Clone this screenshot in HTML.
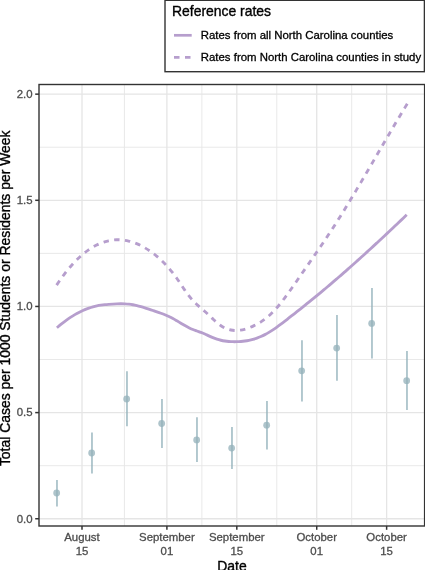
<!DOCTYPE html>
<html><head><meta charset="utf-8"><title>Chart</title>
<style>
html,body{margin:0;padding:0;background:#fff;}
body{width:425px;height:570px;overflow:hidden;position:relative;font-family:"Liberation Sans",sans-serif;}
svg text{font-family:"Liberation Sans",sans-serif;}
.ax{font-size:11.4px;fill:#4d4d4d;stroke:#4d4d4d;stroke-width:0.3px;}
.ti{font-size:13.93px;fill:#000;stroke:#000;stroke-width:0.35px;}
.lg{font-size:11.4px;fill:#000;stroke:#000;stroke-width:0.3px;}
</style></head><body>
<svg width="425" height="570" viewBox="0 0 425 570" style="position:absolute;left:0;top:0;will-change:transform">
<rect x="0" y="0" width="425" height="570" fill="#fff"/>
<line x1="39.0" x2="424.6" y1="465.68" y2="465.68" stroke="#e6e6e6" stroke-width="0.9"/>
<line x1="39.0" x2="424.6" y1="359.52" y2="359.52" stroke="#e6e6e6" stroke-width="0.9"/>
<line x1="39.0" x2="424.6" y1="253.38" y2="253.38" stroke="#e6e6e6" stroke-width="0.9"/>
<line x1="39.0" x2="424.6" y1="147.22" y2="147.22" stroke="#e6e6e6" stroke-width="0.9"/>
<line x1="124.45" x2="124.45" y1="84.5" y2="526.0" stroke="#e6e6e6" stroke-width="0.9"/>
<line x1="201.86" x2="201.86" y1="84.5" y2="526.0" stroke="#e6e6e6" stroke-width="0.9"/>
<line x1="276.77" x2="276.77" y1="84.5" y2="526.0" stroke="#e6e6e6" stroke-width="0.9"/>
<line x1="351.68" x2="351.68" y1="84.5" y2="526.0" stroke="#e6e6e6" stroke-width="0.9"/>
<line x1="39.0" x2="424.6" y1="518.75" y2="518.75" stroke="#e5e5e5" stroke-width="1.3"/>
<line x1="39.0" x2="424.6" y1="412.60" y2="412.60" stroke="#e5e5e5" stroke-width="1.3"/>
<line x1="39.0" x2="424.6" y1="306.45" y2="306.45" stroke="#e5e5e5" stroke-width="1.3"/>
<line x1="39.0" x2="424.6" y1="200.30" y2="200.30" stroke="#e5e5e5" stroke-width="1.3"/>
<line x1="39.0" x2="424.6" y1="94.15" y2="94.15" stroke="#e5e5e5" stroke-width="1.3"/>
<line x1="82.00" x2="82.00" y1="84.5" y2="526.0" stroke="#e5e5e5" stroke-width="1.3"/>
<line x1="166.90" x2="166.90" y1="84.5" y2="526.0" stroke="#e5e5e5" stroke-width="1.3"/>
<line x1="236.81" x2="236.81" y1="84.5" y2="526.0" stroke="#e5e5e5" stroke-width="1.3"/>
<line x1="316.72" x2="316.72" y1="84.5" y2="526.0" stroke="#e5e5e5" stroke-width="1.3"/>
<line x1="386.63" x2="386.63" y1="84.5" y2="526.0" stroke="#e5e5e5" stroke-width="1.3"/>
<line x1="56.97" x2="56.97" y1="479.9" y2="506.6" stroke="rgba(149,178,187,0.74)" stroke-width="1.9"/>
<line x1="91.97" x2="91.97" y1="432.4" y2="473.5" stroke="rgba(149,178,187,0.74)" stroke-width="1.9"/>
<line x1="126.97" x2="126.97" y1="371.3" y2="426.3" stroke="rgba(149,178,187,0.74)" stroke-width="1.9"/>
<line x1="161.97" x2="161.97" y1="399.0" y2="448.0" stroke="rgba(149,178,187,0.74)" stroke-width="1.9"/>
<line x1="196.97" x2="196.97" y1="417.3" y2="461.9" stroke="rgba(149,178,187,0.74)" stroke-width="1.9"/>
<line x1="231.97" x2="231.97" y1="426.9" y2="469.0" stroke="rgba(149,178,187,0.74)" stroke-width="1.9"/>
<line x1="266.97" x2="266.97" y1="400.9" y2="449.5" stroke="rgba(149,178,187,0.74)" stroke-width="1.9"/>
<line x1="301.97" x2="301.97" y1="340.2" y2="401.5" stroke="rgba(149,178,187,0.74)" stroke-width="1.9"/>
<line x1="336.97" x2="336.97" y1="315.1" y2="380.7" stroke="rgba(149,178,187,0.74)" stroke-width="1.9"/>
<line x1="371.97" x2="371.97" y1="288.1" y2="358.6" stroke="rgba(149,178,187,0.74)" stroke-width="1.9"/>
<line x1="406.97" x2="406.97" y1="351.0" y2="410.0" stroke="rgba(149,178,187,0.74)" stroke-width="1.9"/>
<circle cx="56.67" cy="493.0" r="3.4" fill="rgba(149,178,187,0.76)"/>
<circle cx="91.67" cy="453.0" r="3.4" fill="rgba(149,178,187,0.76)"/>
<circle cx="126.67" cy="399.0" r="3.4" fill="rgba(149,178,187,0.76)"/>
<circle cx="161.67" cy="423.5" r="3.4" fill="rgba(149,178,187,0.76)"/>
<circle cx="196.67" cy="439.9" r="3.4" fill="rgba(149,178,187,0.76)"/>
<circle cx="231.67" cy="448.1" r="3.4" fill="rgba(149,178,187,0.76)"/>
<circle cx="266.67" cy="425.2" r="3.4" fill="rgba(149,178,187,0.76)"/>
<circle cx="301.67" cy="370.8" r="3.4" fill="rgba(149,178,187,0.76)"/>
<circle cx="336.67" cy="348.1" r="3.4" fill="rgba(149,178,187,0.76)"/>
<circle cx="371.67" cy="323.4" r="3.4" fill="rgba(149,178,187,0.76)"/>
<circle cx="406.67" cy="380.7" r="3.4" fill="rgba(149,178,187,0.76)"/>
<path d="M56.90 327.75 C57.57 327.19 59.57 325.47 60.90 324.39 C62.23 323.31 63.57 322.27 64.90 321.28 C66.23 320.29 67.57 319.34 68.90 318.43 C70.23 317.52 71.57 316.66 72.90 315.84 C74.23 315.02 75.57 314.24 76.90 313.51 C78.23 312.78 79.57 312.09 80.90 311.45 C82.23 310.81 83.57 310.21 84.90 309.66 C86.23 309.10 87.57 308.60 88.90 308.14 C90.23 307.67 91.57 307.26 92.90 306.89 C94.23 306.52 95.57 306.20 96.90 305.92 C98.23 305.64 99.57 305.41 100.90 305.20 C102.23 305.00 103.57 304.83 104.90 304.69 C106.23 304.54 107.57 304.43 108.90 304.32 C110.23 304.21 111.57 304.12 112.90 304.05 C114.23 303.97 115.57 303.89 116.90 303.84 C118.23 303.79 119.57 303.76 120.90 303.76 C122.23 303.76 123.57 303.78 124.90 303.85 C126.23 303.91 127.57 304.01 128.90 304.16 C130.23 304.32 131.57 304.52 132.90 304.76 C134.23 305.00 135.57 305.30 136.90 305.62 C138.23 305.93 139.57 306.30 140.90 306.67 C142.23 307.05 143.57 307.46 144.90 307.88 C146.23 308.29 147.57 308.73 148.90 309.16 C150.23 309.60 151.57 310.04 152.90 310.48 C154.23 310.92 155.57 311.36 156.90 311.82 C158.23 312.28 159.57 312.75 160.90 313.24 C162.23 313.74 163.57 314.25 164.90 314.80 C166.23 315.36 167.57 315.93 168.90 316.56 C170.23 317.19 171.57 317.85 172.90 318.56 C174.23 319.27 175.57 320.05 176.90 320.82 C178.23 321.60 179.57 322.42 180.90 323.21 C182.23 324.00 183.57 324.81 184.90 325.56 C186.23 326.31 187.57 327.06 188.90 327.72 C190.23 328.38 191.57 328.98 192.90 329.54 C194.23 330.09 195.57 330.54 196.90 331.02 C198.23 331.50 199.57 331.93 200.90 332.43 C202.23 332.93 203.57 333.44 204.90 334.01 C206.23 334.59 207.57 335.26 208.90 335.87 C210.23 336.48 211.57 337.13 212.90 337.67 C214.23 338.22 215.57 338.71 216.90 339.14 C218.23 339.56 219.57 339.92 220.90 340.24 C222.23 340.55 223.57 340.80 224.90 341.01 C226.23 341.22 227.57 341.37 228.90 341.49 C230.23 341.60 231.57 341.67 232.90 341.70 C234.23 341.73 235.57 341.72 236.90 341.68 C238.23 341.64 239.57 341.57 240.90 341.46 C242.23 341.35 243.57 341.20 244.90 341.01 C246.23 340.82 247.57 340.59 248.90 340.32 C250.23 340.04 251.57 339.72 252.90 339.35 C254.23 338.98 255.57 338.57 256.90 338.10 C258.23 337.63 259.57 337.11 260.90 336.53 C262.23 335.95 263.57 335.31 264.90 334.62 C266.23 333.93 267.57 333.17 268.90 332.38 C270.23 331.58 271.57 330.73 272.90 329.84 C274.23 328.96 275.57 328.03 276.90 327.08 C278.23 326.13 279.57 325.14 280.90 324.14 C282.23 323.15 283.57 322.12 284.90 321.09 C286.23 320.06 287.57 319.01 288.90 317.97 C290.23 316.93 291.57 315.88 292.90 314.83 C294.23 313.78 295.57 312.73 296.90 311.68 C298.23 310.63 299.57 309.57 300.90 308.52 C302.23 307.46 303.57 306.40 304.90 305.33 C306.23 304.26 307.57 303.19 308.90 302.12 C310.23 301.05 311.57 299.97 312.90 298.88 C314.23 297.80 315.57 296.71 316.90 295.61 C318.23 294.52 319.57 293.42 320.90 292.31 C322.23 291.20 323.57 290.09 324.90 288.97 C326.23 287.86 327.57 286.73 328.90 285.60 C330.23 284.47 331.57 283.34 332.90 282.20 C334.23 281.06 335.57 279.92 336.90 278.77 C338.23 277.62 339.57 276.46 340.90 275.30 C342.23 274.14 343.57 272.98 344.90 271.81 C346.23 270.64 347.57 269.47 348.90 268.29 C350.23 267.11 351.57 265.92 352.90 264.74 C354.23 263.55 355.57 262.36 356.90 261.16 C358.23 259.97 359.57 258.77 360.90 257.56 C362.23 256.36 363.57 255.15 364.90 253.94 C366.23 252.72 367.57 251.51 368.90 250.29 C370.23 249.07 371.57 247.84 372.90 246.62 C374.23 245.39 375.57 244.16 376.90 242.92 C378.23 241.69 379.57 240.45 380.90 239.21 C382.23 237.97 383.57 236.73 384.90 235.48 C386.23 234.23 387.57 232.98 388.90 231.73 C390.23 230.48 391.57 229.22 392.90 227.96 C394.23 226.70 395.57 225.44 396.90 224.18 C398.23 222.91 399.27 221.93 400.90 220.38 C402.53 218.82 405.73 215.77 406.70 214.84" fill="none" stroke="#b69ecd" stroke-width="2.85" stroke-linejoin="round"/>
<path d="M56.60 285.13 C57.27 284.16 59.27 281.16 60.60 279.28 C61.93 277.40 63.27 275.59 64.60 273.85 C65.93 272.10 67.27 270.43 68.60 268.83 C69.93 267.23 71.27 265.69 72.60 264.23 C73.93 262.76 75.27 261.37 76.60 260.04 C77.93 258.71 79.27 257.44 80.60 256.25 C81.93 255.05 83.27 253.92 84.60 252.86 C85.93 251.80 87.27 250.81 88.60 249.88 C89.93 248.95 91.27 248.08 92.60 247.28 C93.93 246.48 95.27 245.75 96.60 245.08 C97.93 244.41 99.27 243.80 100.60 243.26 C101.93 242.72 103.27 242.24 104.60 241.83 C105.93 241.41 107.27 241.06 108.60 240.77 C109.93 240.48 111.27 240.25 112.60 240.09 C113.93 239.92 115.27 239.82 116.60 239.77 C117.93 239.73 119.27 239.75 120.60 239.83 C121.93 239.90 123.27 240.04 124.60 240.24 C125.93 240.44 127.27 240.70 128.60 241.02 C129.93 241.33 131.27 241.71 132.60 242.15 C133.93 242.58 135.27 243.08 136.60 243.63 C137.93 244.18 139.27 244.79 140.60 245.45 C141.93 246.12 143.27 246.84 144.60 247.62 C145.93 248.40 147.27 249.24 148.60 250.13 C149.93 251.02 151.27 251.97 152.60 252.97 C153.93 253.98 155.27 255.03 156.60 256.15 C157.93 257.26 159.27 258.43 160.60 259.67 C161.93 260.90 163.27 262.20 164.60 263.57 C165.93 264.94 167.27 266.38 168.60 267.90 C169.93 269.42 171.27 271.02 172.60 272.70 C173.93 274.39 175.27 276.16 176.60 278.01 C177.93 279.87 179.27 281.87 180.60 283.84 C181.93 285.81 183.27 287.89 184.60 289.83 C185.93 291.77 187.27 293.73 188.60 295.47 C189.93 297.20 191.27 298.80 192.60 300.26 C193.93 301.72 195.27 302.99 196.60 304.24 C197.93 305.50 199.27 306.61 200.60 307.77 C201.93 308.93 203.27 310.02 204.60 311.20 C205.93 312.38 207.27 313.61 208.60 314.85 C209.93 316.10 211.27 317.42 212.60 318.66 C213.93 319.90 215.27 321.17 216.60 322.31 C217.93 323.44 219.27 324.54 220.60 325.46 C221.93 326.38 223.27 327.18 224.60 327.84 C225.93 328.50 227.27 329.01 228.60 329.42 C229.93 329.82 231.27 330.10 232.60 330.27 C233.93 330.45 235.27 330.51 236.60 330.48 C237.93 330.46 239.27 330.32 240.60 330.12 C241.93 329.91 243.27 329.61 244.60 329.26 C245.93 328.90 247.27 328.46 248.60 327.97 C249.93 327.49 251.27 326.94 252.60 326.35 C253.93 325.75 255.27 325.11 256.60 324.41 C257.93 323.70 259.27 322.94 260.60 322.10 C261.93 321.26 263.27 320.36 264.60 319.37 C265.93 318.38 267.27 317.31 268.60 316.14 C269.93 314.98 271.27 313.71 272.60 312.36 C273.93 311.01 275.27 309.55 276.60 308.03 C277.93 306.51 279.27 304.90 280.60 303.24 C281.93 301.58 283.27 299.85 284.60 298.08 C285.93 296.31 287.27 294.48 288.60 292.63 C289.93 290.78 291.27 288.88 292.60 286.97 C293.93 285.07 295.27 283.13 296.60 281.21 C297.93 279.28 299.27 277.34 300.60 275.41 C301.93 273.48 303.27 271.56 304.60 269.63 C305.93 267.71 307.27 265.79 308.60 263.87 C309.93 261.95 311.27 260.02 312.60 258.09 C313.93 256.16 315.27 254.23 316.60 252.29 C317.93 250.35 319.27 248.41 320.60 246.45 C321.93 244.49 323.27 242.52 324.60 240.54 C325.93 238.55 327.27 236.56 328.60 234.54 C329.93 232.53 331.27 230.50 332.60 228.45 C333.93 226.40 335.27 224.33 336.60 222.24 C337.93 220.15 339.27 218.04 340.60 215.91 C341.93 213.78 343.27 211.63 344.60 209.47 C345.93 207.30 347.27 205.12 348.60 202.93 C349.93 200.74 351.27 198.53 352.60 196.31 C353.93 194.09 355.27 191.85 356.60 189.61 C357.93 187.37 359.27 185.11 360.60 182.85 C361.93 180.60 363.27 178.33 364.60 176.05 C365.93 173.78 367.27 171.50 368.60 169.21 C369.93 166.93 371.27 164.64 372.60 162.35 C373.93 160.06 375.27 157.77 376.60 155.48 C377.93 153.19 379.27 150.90 380.60 148.61 C381.93 146.32 383.27 144.04 384.60 141.75 C385.93 139.47 387.27 137.20 388.60 134.93 C389.93 132.66 391.27 130.39 392.60 128.14 C393.93 125.88 395.27 123.63 396.60 121.40 C397.93 119.16 399.27 116.94 400.60 114.72 C401.93 112.51 403.48 109.96 404.60 108.13 C405.72 106.29 406.85 104.46 407.30 103.72" fill="none" stroke="#b69ecd" stroke-width="2.85" stroke-dasharray="5.4 5.4" stroke-linejoin="round"/>
<rect x="39.0" y="84.5" width="385.6" height="441.5" fill="none" stroke="#333" stroke-width="1.4"/>
<line x1="35.2" x2="39.0" y1="518.75" y2="518.75" stroke="#333" stroke-width="1.5"/>
<text x="32.6" y="523.0" text-anchor="end" class="ax">0.0</text>
<line x1="35.2" x2="39.0" y1="412.60" y2="412.60" stroke="#333" stroke-width="1.5"/>
<text x="32.6" y="416.0" text-anchor="end" class="ax">0.5</text>
<line x1="35.2" x2="39.0" y1="306.45" y2="306.45" stroke="#333" stroke-width="1.5"/>
<text x="32.6" y="310.0" text-anchor="end" class="ax">1.0</text>
<line x1="35.2" x2="39.0" y1="200.30" y2="200.30" stroke="#333" stroke-width="1.5"/>
<text x="32.6" y="204.0" text-anchor="end" class="ax">1.5</text>
<line x1="35.2" x2="39.0" y1="94.15" y2="94.15" stroke="#333" stroke-width="1.5"/>
<text x="32.6" y="98.0" text-anchor="end" class="ax">2.0</text>
<line x1="82.00" x2="82.00" y1="526.0" y2="529.8" stroke="#333" stroke-width="1.5"/>
<text x="82.0" y="541" text-anchor="middle" class="ax">August</text>
<text x="82.0" y="555" text-anchor="middle" class="ax">15</text>
<line x1="166.90" x2="166.90" y1="526.0" y2="529.8" stroke="#333" stroke-width="1.5"/>
<text x="166.9" y="541" text-anchor="middle" class="ax">September</text>
<text x="166.9" y="555" text-anchor="middle" class="ax">01</text>
<line x1="236.81" x2="236.81" y1="526.0" y2="529.8" stroke="#333" stroke-width="1.5"/>
<text x="236.8" y="541" text-anchor="middle" class="ax">September</text>
<text x="236.8" y="555" text-anchor="middle" class="ax">15</text>
<line x1="316.72" x2="316.72" y1="526.0" y2="529.8" stroke="#333" stroke-width="1.5"/>
<text x="316.7" y="541" text-anchor="middle" class="ax">October</text>
<text x="316.7" y="555" text-anchor="middle" class="ax">01</text>
<line x1="386.63" x2="386.63" y1="526.0" y2="529.8" stroke="#333" stroke-width="1.5"/>
<text x="386.6" y="541" text-anchor="middle" class="ax">October</text>
<text x="386.6" y="555" text-anchor="middle" class="ax">15</text>
<text x="232.0" y="570.6" text-anchor="middle" class="ti">Date</text>
<text transform="translate(10.0,466.1) rotate(-90)" class="ti">Total Cases per 1000 Students or Residents per Week</text>
<rect x="165.0" y="0.3" width="259.4" height="71.4" fill="#fff" stroke="#333" stroke-width="1.4"/>
<text x="172.0" y="16" class="ti">Reference rates</text>
<line x1="174.0" x2="191.7" y1="35.3" y2="35.3" stroke="#b69ecd" stroke-width="2.7"/>
<line x1="174.0" x2="191.7" y1="57.3" y2="57.3" stroke="#b69ecd" stroke-width="2.7" stroke-dasharray="5.5 5.5"/>
<text x="200.8" y="39" class="lg">Rates from all North Carolina counties</text>
<text x="200.8" y="61" class="lg">Rates from North Carolina counties in study</text>
</svg>
</body></html>
